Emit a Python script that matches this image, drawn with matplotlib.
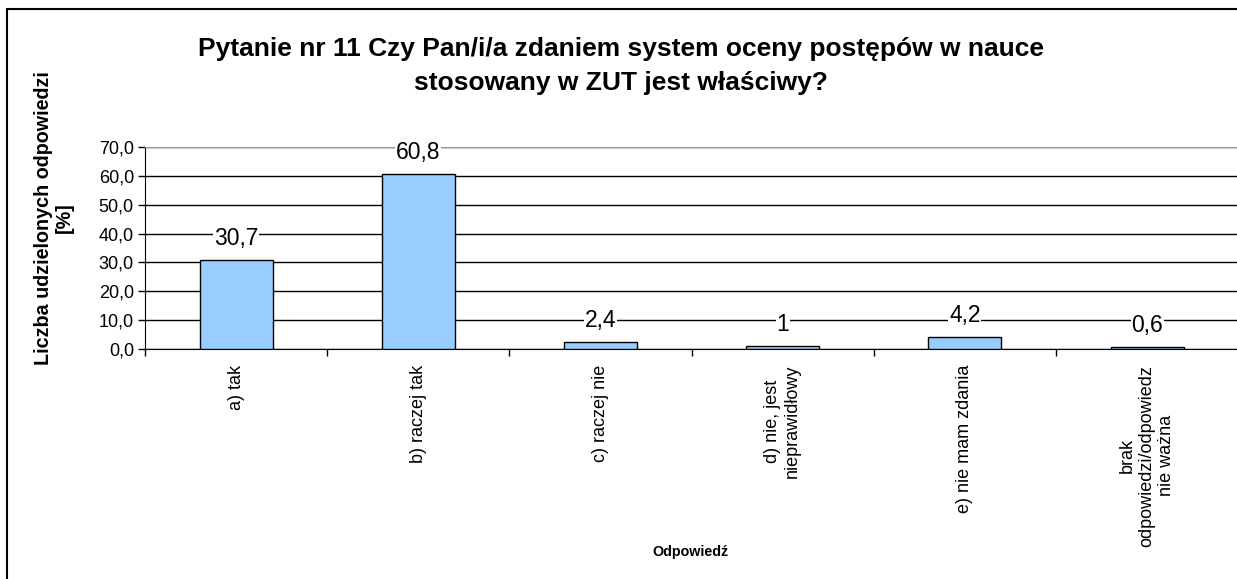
import matplotlib
matplotlib.use("Agg")
from matplotlib import pyplot as plt
from matplotlib.patches import Rectangle
import numpy as np

categories = [
    "a) tak",
    "b) raczej tak",
    "c) raczej nie",
    "d) nie, jest\nnieprawidłowy",
    "e) nie mam zdania",
    "brak\nodpowiedzi/odpowiedz\nnie ważna",
]
values = [30.7, 60.8, 2.4, 1.0, 4.2, 0.6]
value_labels = ["30,7", "60,8", "2,4", "1", "4,2", "0,6"]
yticks = [0, 10, 20, 30, 40, 50, 60, 70]

plt.rcParams['font.family'] = ['Liberation Sans', 'DejaVu Sans']

W, H = 1237, 579
fig = plt.figure(figsize=(W / 100, H / 100), dpi=100)
ax = fig.add_axes([145 / W, 1 - 349 / H, (W - 145) / W + 0.001, (349 - 147) / H])

x = np.arange(len(categories))
ax.bar(x, values, width=0.4, color="#99CCFF", edgecolor="black", linewidth=1, zorder=3)

ax.set_xlim(-0.5, len(categories) - 0.5)
ax.set_ylim(0, 70)
ax.set_yticks(yticks)
ax.set_yticklabels([f"{v:.1f}".replace(".", ",") for v in yticks], fontsize=13)
ax.yaxis.grid(True, color="black", linewidth=1, zorder=0)
ax.tick_params(axis="y", direction="out", length=5, width=1, pad=3)

# category boundaries as ticks, labels centred under bars
ax.set_xticks(np.arange(len(categories) + 1) - 0.5)
ax.set_xticklabels([])
ax.tick_params(axis="x", direction="out", length=5, width=1)
for xi, lab in zip(x, categories):
    ax.text(xi, -5.5, lab, rotation=90, ha="center", va="top", fontsize=13,
            multialignment="center", transform=ax.transData, clip_on=False)

ax.spines["top"].set_color("#999999")
ax.spines["right"].set_visible(False)
ax.spines["left"].set_color("black")
ax.spines["bottom"].set_color("black")

for xi, v, lab in zip(x, values, value_labels):
    ax.annotate(lab, (xi, v), xytext=(0, 15.5), textcoords="offset points",
                ha="center", va="center", fontsize=16.5, zorder=4,
                bbox=dict(facecolor="white", edgecolor="none", pad=0.5))

fig.text(621 / W, 1 - 66 / H,
         "Pytanie nr 11 Czy Pan/i/a zdaniem system oceny postępów w nauce\nstosowany w ZUT jest właściwy?",
         ha="center", va="center", fontsize=19, fontweight="bold", linespacing=1.55)
fig.text(54 / W, 1 - 218 / H, "Liczba udzielonych odpowiedzi\n[%]", rotation=90,
         ha="center", va="center", fontsize=14.2, fontweight="bold", multialignment="center",
         linespacing=1.1)
fig.text(690 / W, 1 - 552 / H, "Odpowiedź", ha="center", va="center", fontsize=10.3, fontweight="bold")

fig.patches.append(Rectangle((6.5 / W, -0.1), 1.2, 1 - 8.5 / H + 0.1, transform=fig.transFigure,
                             fill=False, edgecolor="black", linewidth=1.5))

fig.savefig("out.png", dpi=100)
